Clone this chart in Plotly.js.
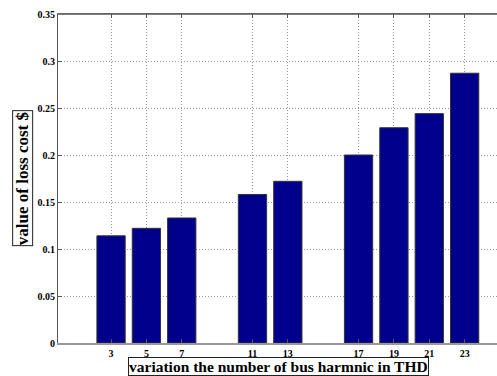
<!DOCTYPE html>
<html>
<head>
<meta charset="utf-8">
<script src="https://cdn.plot.ly/plotly-3.0.1.min.js"></script>
<style>html,body{margin:0;padding:0;overflow:hidden;background:#fff;}</style>
</head>
<body>
<div id="chart" style="width:500px;height:376px;"></div>
<script>
const harmonics = [3, 5, 7, 11, 13, 17, 19, 21, 23];
const lossCost = [0.114, 0.122, 0.133, 0.158, 0.172, 0.200, 0.229, 0.244, 0.287];
const yTickVals = [0, 0.05, 0.1, 0.15, 0.2, 0.25, 0.3, 0.35];
const yTickText = ["0", "0.05", "0.1", "0.15", "0.2", "0.25", "0.3", "0.35"];
const xTitle = "variation the number of bus harmnic in THD";
const yTitle = "value of loss cost $";

const serif = "Liberation Serif, Times New Roman, serif";
const tickFont = {family: serif, size: 10, color: "#000"};
const bold = s => "<b>" + s + "</b>";

const trace = {
  type: "bar",
  x: harmonics,
  y: lossCost,
  width: 1.6,
  marker: {color: "rgb(0,0,140)", line: {color: "#333", width: 1}},
  hoverinfo: "none"
};

const layout = {
  width: 500, height: 376,
  margin: {l: 58, r: 0, t: 14, b: 33},
  paper_bgcolor: "#fff", plot_bgcolor: "#fff",
  showlegend: false,
  xaxis: {
    range: [0, 25],
    tickvals: harmonics,
    ticktext: harmonics.map(v => bold(String(v))),
    tickfont: tickFont,
    ticks: "inside", ticklen: 4, tickcolor: "#555",
    ticklabelstandoff: 0,
    showline: true, linecolor: "#999", linewidth: 1.5,
    mirror: "ticks",
    showgrid: true, gridcolor: "#999", griddash: "1px,2px", gridwidth: 1,
    zeroline: false
  },
  yaxis: {
    range: [0, 0.35],
    tickvals: yTickVals,
    ticktext: yTickText.map(bold),
    tickfont: tickFont,
    ticks: "inside", ticklen: 4, tickcolor: "#555",
    showline: true, linecolor: "#555", linewidth: 1,
    showgrid: true, gridcolor: "#999", griddash: "1px,2px", gridwidth: 1,
    zeroline: false
  },
  shapes: [
    {type: "line", xref: "paper", yref: "paper", x0: 0, x1: 1, y0: 1, y1: 1, line: {color: "#555", width: 1.5}}
  ],
  annotations: [
    {
      text: bold(xTitle), xref: "paper", yref: "paper",
      x: 0.498, y: -0.1003, xanchor: "center", yanchor: "bottom", showarrow: false,
      font: {family: serif, size: 15.5, color: "#000"},
      bordercolor: "#222", borderwidth: 1, borderpad: 0, bgcolor: "#fff"
    },
    {
      text: bold(yTitle), xref: "paper", yref: "paper",
      x: -0.08, y: 0.5, xanchor: "center", yanchor: "middle", showarrow: false,
      textangle: -90,
      font: {family: serif, size: 17, color: "#000"},
      bordercolor: "#222", borderwidth: 1, borderpad: 0, bgcolor: "#fff"
    }
  ]
};

Plotly.newPlot("chart", [trace], layout, {staticPlot: true, displayModeBar: false});
</script>
</body>
</html>
